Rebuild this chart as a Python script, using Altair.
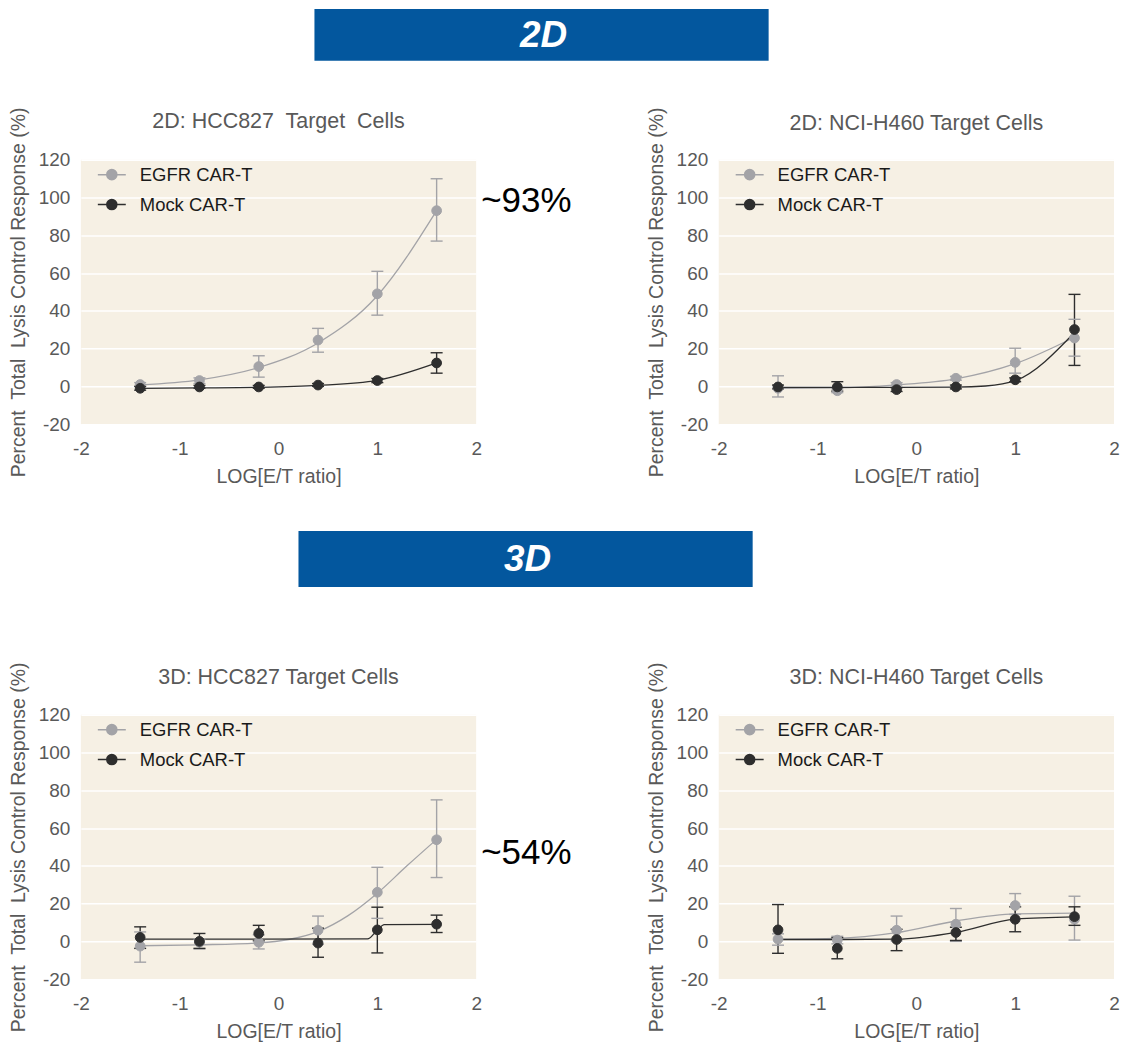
import altair as alt
import pandas as pd

FONT = "Liberation Sans"
GREY_TXT = "#595959"
BG = "#f6f0e4"
C_EGFR = "#a3a3a7"
C_MOCK = "#2e2e2e"
BLUE = "#03579e"

SERIES = ["EGFR CAR-T", "Mock CAR-T"]
X = [-1.4, -0.8, -0.2, 0.4, 1.0, 1.6]
XTICKS = [-2, -1, 0, 1, 2]
YTICKS = [-20, 0, 20, 40, 60, 80, 100, 120]
YTITLE = "Percent\u00a0 Total\u00a0 Lysis Control Response (%)"
XTITLE = "LOG[E/T ratio]"
BANNERS = ["2D", "3D"]

TITLES = ["2D: HCC827\u00a0 Target\u00a0 Cells", "2D: NCI-H460 Target Cells",
          "3D: HCC827 Target Cells", "3D: NCI-H460 Target Cells"]

# ---- 2D HCC827
P1_EGFR = [1.0, 3.1, 10.5, 24.5, 49.0, 93.0]
P1_EGFR_LO = [0.0, 1.5, 4.9, 18.1, 37.7, 76.9]
P1_EGFR_HI = [2.0, 4.5, 16.2, 30.7, 60.9, 109.9]
P1_MOCK = [-1.0, -0.3, -0.3, 0.7, 3.1, 12.4]
P1_MOCK_LO = [-2.0, -1.0, -1.0, 0.0, 2.0, 7.0]
P1_MOCK_HI = [0.0, 0.5, 0.5, 1.5, 4.2, 17.8]
P1_EGFR_FIT_X = [-1.4, -0.8, -0.2, 0.4, 1.0, 1.6]
P1_EGFR_FIT_Y = [0.8, 3.5, 10.0, 23.0, 48.0, 93.0]
P1_MOCK_FIT_X = [-1.4, -0.8, -0.2, 0.4, 1.0, 1.6]
P1_MOCK_FIT_Y = [-1.0, -0.8, -0.5, 0.5, 3.2, 12.4]

# ---- 2D NCI-H460
P2_EGFR = [-1.0, -2.3, 1.0, 4.3, 12.7, 25.6]
P2_EGFR_LO = [-5.6, -3.3, 0.0, 3.3, 7.0, 16.0]
P2_EGFR_HI = [5.6, -1.3, 2.0, 5.3, 20.2, 35.5]
P2_MOCK = [-0.3, -0.3, -1.7, -0.3, 3.5, 30.1]
P2_MOCK_LO = [-1.3, -2.5, -2.7, -1.3, 2.5, 11.1]
P2_MOCK_HI = [0.7, 2.5, -0.7, 0.7, 4.5, 48.7]
P2_EGFR_FIT_X = [-1.4, -0.8, -0.2, 0.4, 1.0, 1.6]
P2_EGFR_FIT_Y = [-1.0, -0.8, 0.8, 4.0, 12.0, 26.0]
P2_MOCK_FIT_X = [-1.4, -0.8, -0.2, 0.4, 0.7, 1.0, 1.6]
P2_MOCK_FIT_Y = [-0.5, -0.5, -0.5, -0.4, 0.2, 3.0, 28.5]

# ---- 3D HCC827
P3_EGFR = [-2.5, -0.5, -0.5, 5.9, 26.0, 53.8]
P3_EGFR_LO = [-11.0, -4.0, -4.0, -1.5, 12.2, 33.8]
P3_EGFR_HI = [5.0, 1.2, 3.5, 13.4, 39.2, 74.9]
P3_MOCK = [2.1, 0.0, 4.2, -0.9, 6.1, 9.1]
P3_MOCK_LO = [-3.7, -3.7, 0.3, -8.4, -6.1, 4.7]
P3_MOCK_HI = [7.7, 4.2, 8.5, 7.0, 18.1, 13.9]
P3_EGFR_FIT_X = [-1.4, -0.8, -0.2, 0.1, 0.4, 0.7, 1.0, 1.3, 1.6]
P3_EGFR_FIT_Y = [-2.3, -1.8, -0.8, 1.0, 5.2, 13.5, 25.5, 40.0, 54.0]
P3_MOCK_FIT_X = [-1.4, 0.9, 1.0, 1.07, 1.6]
P3_MOCK_FIT_Y = [1.2, 1.3, 6.0, 8.9, 9.0]

# ---- 3D NCI-H460
P4_EGFR = [1.2, 0.7, 5.9, 9.1, 19.0, 11.7]
P4_EGFR_LO = [-2.0, -1.3, 0.3, 0.0, 14.3, 0.7]
P4_EGFR_HI = [4.0, 2.7, 13.4, 17.4, 25.3, 23.9]
P4_MOCK = [6.1, -3.7, 1.0, 4.7, 11.7, 13.1]
P4_MOCK_LO = [-6.3, -9.2, -4.9, 0.5, 5.1, 8.5]
P4_MOCK_HI = [19.5, 2.0, 6.4, 7.5, 18.3, 18.3]
P4_EGFR_FIT_X = [-1.4, -0.8, -0.2, 0.4, 1.0, 1.6]
P4_EGFR_FIT_Y = [1.2, 1.6, 4.6, 10.8, 14.6, 15.0]
P4_MOCK_FIT_X = [-1.4, -0.8, -0.2, 0.4, 1.0, 1.6]
P4_MOCK_FIT_Y = [1.0, 1.0, 1.2, 4.8, 11.8, 13.0]

ANNOT = {0: ("~93%", 93, -10), 2: ("~54%", 54, 14)}

PANEL_W, PANEL_H = 396, 265
LEGEND_PATH = "M-1,0L1,0M-0.36,0A0.36,0.36,0,1,1,0.36,0A0.36,0.36,0,1,1,-0.36,0Z"


def xenc(field="x"):
    return alt.X(
        f"{field}:Q",
        scale=alt.Scale(domain=[-2, 2], nice=False, zero=False),
        axis=alt.Axis(values=XTICKS, title=XTITLE, grid=False, domain=False, ticks=False,
                      labelFlush=False, labelOverlap=False,
                      labelPadding=15, titlePadding=9, labelFontSize=19, titleFontSize=19.5,
                      labelColor=GREY_TXT, titleColor=GREY_TXT, labelFont=FONT, titleFont=FONT,
                      titleFontWeight="normal", labelExpr="'' + datum.value"),
    )


def yenc(field="y"):
    return alt.Y(
        f"{field}:Q",
        scale=alt.Scale(domain=[-20, 120], nice=False, zero=False),
        axis=alt.Axis(values=YTICKS, title=YTITLE, grid=True, gridColor="white", gridWidth=1.5,
                      domain=False, ticks=False, labelFlush=False, labelOverlap=False,
                      labelPadding=11, titlePadding=10,
                      labelFontSize=19, titleFontSize=19.5, labelColor=GREY_TXT,
                      titleColor=GREY_TXT, labelFont=FONT, titleFont=FONT,
                      titleFontWeight="normal", labelExpr="'' + datum.value"),
    )


def legend():
    return alt.Legend(title=None, orient="none", legendX=16, legendY=0, symbolType=LEGEND_PATH,
                      symbolSize=784, symbolStrokeWidth=1.5, symbolOpacity=1,
                      labelFontSize=18.5, labelFont=FONT, labelColor="#1a1a1a",
                      rowPadding=5, labelOffset=13, padding=0)


def panel(idx, title, title_y, e, elo, ehi, m, mlo, mhi, efx, efy, mfx, mfy):
    pts = pd.DataFrame({
        "x": X + X,
        "y": e + m,
        "lo": elo + mlo,
        "hi": ehi + mhi,
        "series": [SERIES[0]] * len(X) + [SERIES[1]] * len(X),
        "col": [C_EGFR] * len(X) + [C_MOCK] * len(X),
    })
    fit = pd.DataFrame({
        "x": efx + mfx,
        "y": efy + mfy,
        "series": [SERIES[0]] * len(efx) + [SERIES[1]] * len(mfx),
        "col": [C_EGFR] * len(efx) + [C_MOCK] * len(mfx),
    })
    cscale = alt.Scale(domain=SERIES, range=[C_EGFR, C_MOCK])
    lines = alt.Chart(fit).mark_line(interpolate="monotone", strokeWidth=1.3).encode(
        x=xenc(), y=yenc(), stroke=alt.Stroke("col:N", scale=None), detail="series:N")
    rules = alt.Chart(pts).mark_rule(strokeWidth=1.4).encode(
        x=xenc(), y=yenc("lo"), y2="hi:Q", stroke=alt.Stroke("col:N", scale=None))
    cap_lo = alt.Chart(pts).mark_tick(orient="horizontal", size=12, thickness=1.4, opacity=1).encode(
        x=xenc(), y=yenc("lo"), color=alt.Color("col:N", scale=None))
    cap_hi = alt.Chart(pts).mark_tick(orient="horizontal", size=12, thickness=1.4, opacity=1).encode(
        x=xenc(), y=yenc("hi"), color=alt.Color("col:N", scale=None))
    points = alt.Chart(pts).mark_point(filled=True, shape="circle", size=95, strokeWidth=1,
                                       opacity=1).encode(
        x=xenc(), y=yenc(),
        fill=alt.Fill("series:N", scale=cscale, legend=legend()),
        stroke=alt.Stroke("series:N", scale=cscale, legend=legend()),
    )
    tdf = pd.DataFrame({"t": [title]})
    ttl = alt.Chart(tdf).mark_text(font=FONT, fontSize=21.5, color=GREY_TXT, align="center",
                                   baseline="alphabetic").encode(
        x=alt.value(PANEL_W / 2), y=alt.value(title_y), text="t:N")
    layers = [lines, rules, cap_lo, cap_hi, points, ttl]
    if idx in ANNOT:
        lab, yv, dy = ANNOT[idx]
        adf = pd.DataFrame({"x": [2.0], "y": [yv], "label": [lab]})
        layers.append(alt.Chart(adf).mark_text(align="left", baseline="middle", dx=5, dy=dy,
                                               fontSize=35, font=FONT, color="black").encode(
            x=xenc(), y=yenc(), text="label:N"))
    return alt.layer(*layers).properties(
        width=PANEL_W, height=PANEL_H,
        view=alt.ViewBackground(fill=BG, strokeWidth=0),
    )


def banner(label, x0, x1, y0, y1, height):
    df = pd.DataFrame({"label": [label]})
    rect = alt.Chart(df).mark_rect(color=BLUE).encode(
        x=alt.value(x0), x2=alt.value(x1), y=alt.value(y0), y2=alt.value(y1))
    txt = alt.Chart(df).mark_text(font=FONT, fontSize=37, fontStyle="italic", fontWeight="bold",
                                  color="white", baseline="middle", align="center").encode(
        x=alt.value((x0 + x1) / 2 + 2), y=alt.value((y0 + y1) / 2 + 1), text="label:N")
    return alt.layer(rect, txt).properties(width=700, height=height,
                                           view=alt.ViewBackground(strokeWidth=0))


p1 = panel(0, TITLES[0], -32, P1_EGFR, P1_EGFR_LO, P1_EGFR_HI, P1_MOCK, P1_MOCK_LO, P1_MOCK_HI,
           P1_EGFR_FIT_X, P1_EGFR_FIT_Y, P1_MOCK_FIT_X, P1_MOCK_FIT_Y)
p2 = panel(1, TITLES[1], -30, P2_EGFR, P2_EGFR_LO, P2_EGFR_HI, P2_MOCK, P2_MOCK_LO, P2_MOCK_HI,
           P2_EGFR_FIT_X, P2_EGFR_FIT_Y, P2_MOCK_FIT_X, P2_MOCK_FIT_Y)
p3 = panel(2, TITLES[2], -31, P3_EGFR, P3_EGFR_LO, P3_EGFR_HI, P3_MOCK, P3_MOCK_LO, P3_MOCK_HI,
           P3_EGFR_FIT_X, P3_EGFR_FIT_Y, P3_MOCK_FIT_X, P3_MOCK_FIT_Y)
p4 = panel(3, TITLES[3], -31, P4_EGFR, P4_EGFR_LO, P4_EGFR_HI, P4_MOCK, P4_MOCK_LO, P4_MOCK_HI,
           P4_EGFR_FIT_X, P4_EGFR_FIT_Y, P4_MOCK_FIT_X, P4_MOCK_FIT_Y)

row1 = alt.hconcat(p1, p2, spacing=74).resolve_legend(fill="independent", stroke="independent")
row2 = alt.hconcat(p3, p4, spacing=74).resolve_legend(fill="independent", stroke="independent")

chart = alt.concat(
    banner(BANNERS[0], 234, 689, 0, 52, 97),
    row1,
    banner(BANNERS[1], 218, 673, 45, 101, 174.5),
    row2,
    columns=1, align="none", spacing=0,
).resolve_legend(fill="independent", stroke="independent").properties(padding=0).configure(
    font=FONT).configure_view(strokeWidth=0)

chart.save("out.html", embed_options={"renderer": "svg", "actions": False})
